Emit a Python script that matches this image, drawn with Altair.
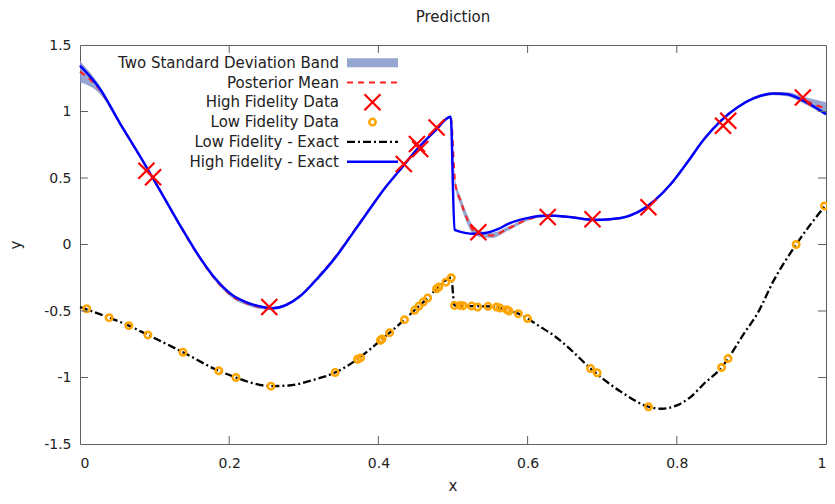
import altair as alt
import pandas as pd

# ---------------- data ----------------
# High fidelity exact curve
hf_x = [0.0, 0.027, 0.053, 0.08, 0.093, 0.111, 0.1335, 0.156, 0.178, 0.205, 0.2225, 0.245, 0.258,
        0.2937, 0.32, 0.3427, 0.365, 0.387, 0.4095, 0.4317, 0.454, 0.476, 0.497, 0.502, 0.5296,
        0.547, 0.56, 0.574, 0.601, 0.6275, 0.659, 0.69, 0.7254, 0.7477, 0.77, 0.792, 0.814,
        0.8367, 0.859, 0.881, 0.9035, 0.93, 0.948, 0.97, 1.0]
hf_y = [1.345, 1.168, 0.917, 0.668, 0.543, 0.37, 0.15, -0.058, -0.233, -0.383, -0.433, -0.47, -0.48,
        -0.395, -0.245, -0.095, 0.08, 0.255, 0.43, 0.58, 0.73, 0.855, 0.96, 0.11, 0.08,
        0.09, 0.115, 0.155, 0.2, 0.218, 0.205, 0.185, 0.2, 0.243, 0.33, 0.455, 0.617,
        0.793, 0.93, 1.03, 1.1, 1.135, 1.13, 1.08, 0.98]

# Posterior mean and half width of the two standard deviation band
mean_x = [0.0, 0.027, 0.053, 0.08, 0.093, 0.111, 0.1335, 0.156, 0.178, 0.205, 0.2225, 0.245, 0.258,
          0.2937, 0.32, 0.3427, 0.365, 0.387, 0.4095, 0.4317, 0.454, 0.476, 0.497, 0.503, 0.51,
          0.52, 0.53, 0.552, 0.574, 0.601, 0.6275, 0.659, 0.69, 0.7254, 0.7477, 0.77, 0.792,
          0.814, 0.8367, 0.859, 0.881, 0.9035, 0.93, 0.948, 0.97, 1.0]
mean_y = [1.30, 1.16, 0.915, 0.666, 0.545, 0.37, 0.148, -0.062, -0.24, -0.392, -0.44, -0.475, -0.48,
          -0.392, -0.24, -0.09, 0.085, 0.258, 0.43, 0.58, 0.73, 0.857, 0.96, 0.46, 0.33,
          0.18, 0.09, 0.068, 0.12, 0.19, 0.215, 0.205, 0.185, 0.2, 0.243, 0.33, 0.455,
          0.617, 0.793, 0.93, 1.03, 1.1, 1.135, 1.13, 1.085, 1.02]
band_half = [0.08, 0.03, 0.012, 0.008, 0.006, 0.006, 0.008, 0.01, 0.012, 0.015, 0.015, 0.012, 0.01,
             0.01, 0.01, 0.008, 0.008, 0.008, 0.008, 0.006, 0.006, 0.008, 0.01, 0.03, 0.035,
             0.035, 0.025, 0.02, 0.015, 0.01, 0.006, 0.008, 0.008, 0.008, 0.008, 0.008, 0.008,
             0.008, 0.008, 0.006, 0.008, 0.01, 0.012, 0.015, 0.025, 0.05]

# Low fidelity exact curve
lf_x = [0.0, 0.039, 0.0655, 0.091, 0.138, 0.186, 0.209, 0.23, 0.256, 0.28, 0.3115, 0.342, 0.373,
        0.403, 0.435, 0.454, 0.466, 0.478, 0.4976, 0.502, 0.525, 0.547, 0.563, 0.5875, 0.6,
        0.614, 0.6365, 0.6586, 0.6845, 0.7254, 0.762, 0.78, 0.8, 0.8188, 0.8367, 0.86, 0.8687,
        0.89, 0.908, 0.93, 0.96, 1.0]
lf_y = [-0.47, -0.55, -0.61, -0.68, -0.81, -0.95, -1.0, -1.04, -1.065, -1.06, -1.02, -0.963, -0.858,
        -0.72, -0.565, -0.465, -0.403, -0.333, -0.25, -0.458, -0.463, -0.465, -0.478, -0.52, -0.557,
        -0.608, -0.69, -0.795, -0.933, -1.108, -1.22, -1.235, -1.21, -1.145, -1.045, -0.925, -0.858,
        -0.67, -0.52, -0.27, 0.0, 0.30]

# High fidelity data (crosses)
hfd_x = [0.089, 0.098, 0.2537, 0.434, 0.4517, 0.456, 0.478, 0.534, 0.627, 0.687, 0.762, 0.862, 0.869, 0.969]
hfd_y = [0.555, 0.505, -0.47, 0.605, 0.755, 0.718, 0.88, 0.092, 0.207, 0.19, 0.28, 0.893, 0.93, 1.105]

# Low fidelity data (circles)
lfd_x = [0.009, 0.039, 0.0655, 0.091, 0.138, 0.186, 0.209, 0.256, 0.342, 0.372, 0.376, 0.4028, 0.405,
         0.415, 0.435, 0.4486, 0.454, 0.46, 0.466, 0.478, 0.481, 0.4904, 0.4976, 0.502, 0.5096,
         0.5136, 0.525, 0.533, 0.547, 0.5585, 0.563, 0.572, 0.575, 0.5875, 0.5999, 0.6845, 0.6933,
         0.762, 0.86, 0.8687, 0.96, 0.998]
lfd_y = [-0.483, -0.55, -0.61, -0.68, -0.81, -0.95, -1.0, -1.065, -0.963, -0.863, -0.853, -0.72, -0.71,
         -0.663, -0.565, -0.495, -0.465, -0.433, -0.403, -0.333, -0.32, -0.283, -0.25, -0.458, -0.458,
         -0.46, -0.463, -0.47, -0.465, -0.47, -0.478, -0.49, -0.5, -0.52, -0.557, -0.933, -0.965,
         -1.22, -0.925, -0.858, 0.0, 0.29]

x_ticks = [0, 0.2, 0.4, 0.6, 0.8, 1]
y_ticks = [-1.5, -1, -0.5, 0, 0.5, 1, 1.5]
x_inner_ticks = [0.2, 0.4, 0.6, 0.8]
y_inner_ticks = [-1, -0.5, 0, 0.5, 1]

title_text = "Prediction"
x_title = "x"
legend_labels = ["Two Standard Deviation Band", "Posterior Mean", "High Fidelity Data",
                 "Low Fidelity Data", "Low Fidelity - Exact", "High Fidelity - Exact"]

# ---------------- styling ----------------
W, H = 746, 399
FONT = "DejaVu Sans"
BAND = "#8298c9"
BORDER = "#606060"
X_SHAPE = "M-1,-1L1,1M1,-1L-1,1"

xs = alt.Scale(domain=[0, 1], nice=False, zero=False)
ys = alt.Scale(domain=[-1.5, 1.5], nice=False, zero=False)
x_axis = alt.Axis(values=x_ticks, labelExpr="'' + datum.value", ticks=False, domain=False, grid=False,
                  labelFont=FONT, labelFontSize=14, labelColor="#222", labelPadding=12, title=None)
y_axis = alt.Axis(values=y_ticks, labelExpr="'' + datum.value", ticks=False, domain=False, grid=False,
                  labelFont=FONT, labelFontSize=14, labelColor="#222", labelPadding=9,
                  title="y", titleFont=FONT, titleFontSize=15, titleFontWeight="normal",
                  titleColor="#222", titlePadding=20)

X = lambda f="x": alt.X(f, type="quantitative", scale=xs, axis=x_axis)
Y = lambda f="y": alt.Y(f, type="quantitative", scale=ys, axis=y_axis)

mean_df = pd.DataFrame({"x": mean_x, "y": mean_y,
                        "lo": [m - b for m, b in zip(mean_y, band_half)],
                        "hi": [m + b for m, b in zip(mean_y, band_half)]})
hf_df = pd.DataFrame({"x": hf_x, "y": hf_y})
lf_df = pd.DataFrame({"x": lf_x, "y": lf_y})
hfd_df = pd.DataFrame({"x": hfd_x, "y": hfd_y})
lfd_df = pd.DataFrame({"x": lfd_x, "y": lfd_y})

band = alt.Chart(mean_df).mark_area(color=BAND, opacity=0.85, interpolate="monotone").encode(
    x=X(), y=Y("lo"), y2="hi")
mean_line = alt.Chart(mean_df).mark_line(color="#ff2020", strokeWidth=2, strokeDash=[6, 5],
                                         interpolate="monotone").encode(x=X(), y=Y())
hfd = alt.Chart(hfd_df).mark_point(shape=X_SHAPE, size=256, color="#ff0000", strokeWidth=2.2,
                                   filled=False, opacity=1).encode(x=X(), y=Y())
lfd = alt.Chart(lfd_df).mark_point(shape="circle", size=42, color="#ffa500", strokeWidth=2.5,
                                   filled=False, opacity=1).encode(x=X(), y=Y())
lf_line = alt.Chart(lf_df).mark_line(color="#000000", strokeWidth=2.3, strokeDash=[8, 3, 2, 3],
                                     interpolate="monotone").encode(x=X(), y=Y())
hf_line = alt.Chart(hf_df).mark_line(color="#0000ff", strokeWidth=2.5,
                                     interpolate="monotone").encode(x=X(), y=Y())

# inward ticks (gnuplot style) on all four sides
xt = pd.DataFrame({"x": x_inner_ticks})
yt = pd.DataFrame({"y": y_inner_ticks})
tick_layers = [
    alt.Chart(xt).mark_rule(color=BORDER, strokeWidth=1).encode(x=X(), y=alt.value(H), y2=alt.value(H - 8)),
    alt.Chart(xt).mark_rule(color=BORDER, strokeWidth=1).encode(x=X(), y=alt.value(0), y2=alt.value(8)),
    alt.Chart(yt).mark_rule(color=BORDER, strokeWidth=1).encode(y=Y(), x=alt.value(0), x2=alt.value(8)),
    alt.Chart(yt).mark_rule(color=BORDER, strokeWidth=1).encode(y=Y(), x=alt.value(W), x2=alt.value(W - 8)),
]

one = alt.Data(values=[{"k": 0}])

# title and x-axis title as text marks centred on the plot
title_layer = alt.Chart(one).mark_text(text=title_text, align="center", baseline="middle", font=FONT,
                                       fontSize=15, color="#222").encode(
    x=alt.value(W / 2), y=alt.value(-28))
xtitle_layer = alt.Chart(one).mark_text(text=x_title, align="center", baseline="middle", font=FONT,
                                        fontSize=15, color="#222").encode(
    x=alt.value(W / 2), y=alt.value(H + 42))

# gnuplot-style key: text right aligned, sample to its right
TX, S0, S1 = 259, 267, 318
SC = (S0 + S1) / 2
rows = [17.7 + 19.8 * i for i in range(len(legend_labels))]
leg = []
for lab, ry in zip(legend_labels, rows):
    leg.append(alt.Chart(one).mark_text(text=lab, align="right", baseline="middle", font=FONT,
                                        fontSize=15, color="#222").encode(
        x=alt.value(TX), y=alt.value(ry)))
leg.append(alt.Chart(one).mark_rect(color=BAND, opacity=0.85).encode(
    x=alt.value(S0), x2=alt.value(S1), y=alt.value(rows[0] - 4.5), y2=alt.value(rows[0] + 4.5)))
leg.append(alt.Chart(one).mark_rule(color="#ff2020", strokeWidth=2, strokeDash=[6, 5]).encode(
    x=alt.value(S0), x2=alt.value(S1), y=alt.value(rows[1])))
leg.append(alt.Chart(one).mark_point(shape=X_SHAPE, size=256, color="#ff0000", strokeWidth=2.2,
                                     filled=False, opacity=1).encode(x=alt.value(SC), y=alt.value(rows[2])))
leg.append(alt.Chart(one).mark_point(shape="circle", size=42, color="#ffa500", strokeWidth=2.5,
                                     filled=False, opacity=1).encode(x=alt.value(SC), y=alt.value(rows[3])))
leg.append(alt.Chart(one).mark_rule(color="#000000", strokeWidth=2.3, strokeDash=[8, 3, 2, 3]).encode(
    x=alt.value(S0), x2=alt.value(S1), y=alt.value(rows[4])))
leg.append(alt.Chart(one).mark_rule(color="#0000ff", strokeWidth=2.5).encode(
    x=alt.value(S0), x2=alt.value(S1), y=alt.value(rows[5])))

chart = alt.layer(band, mean_line, lf_line, hf_line, hfd, lfd, *tick_layers,
                  title_layer, xtitle_layer, *leg).properties(
    width=W, height=H,
    autosize=alt.AutoSizeParams(type="none"),
    padding={"left": 72, "top": 37, "right": 1, "bottom": 52},
).configure_view(stroke=BORDER, strokeWidth=1)

chart.save("out.html", embed_options={"renderer": "svg", "actions": False})
